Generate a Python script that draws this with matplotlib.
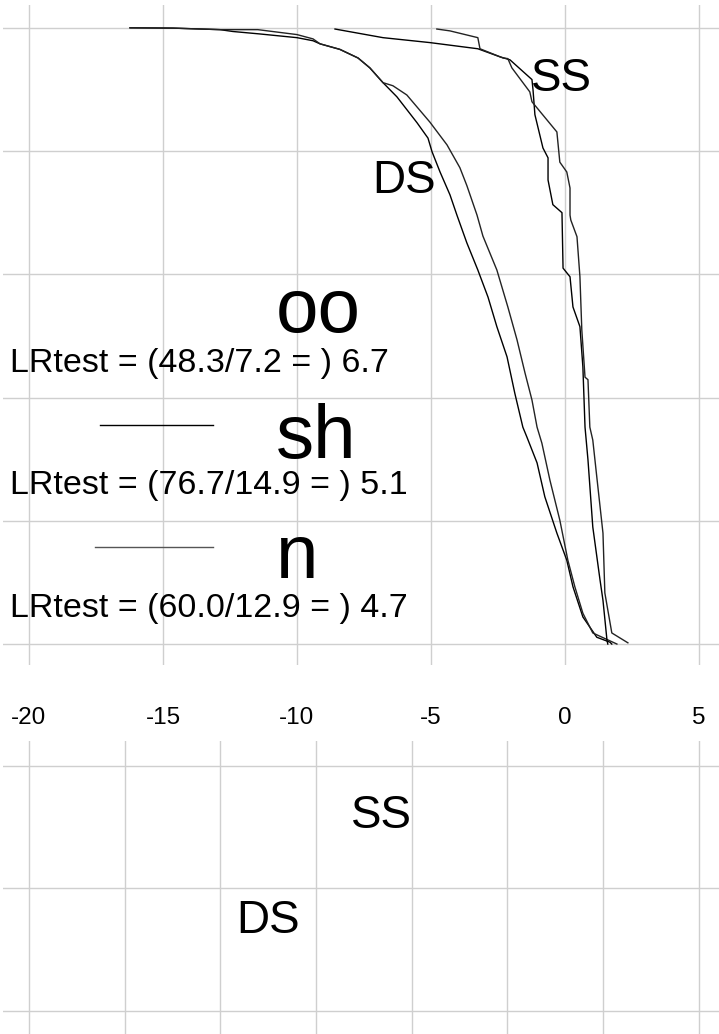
import matplotlib
matplotlib.use("Agg")
from matplotlib import pyplot as plt

plt.rcParams['font.family'] = ['Liberation Sans', 'DejaVu Sans']

# survival-type curves, top panel (x value, fraction remaining)
ds_a_x = [-16.23, -14.63, -12.87, -12.39, -11.38, -10.0, -9.40, -9.14, -8.40, -7.72, -7.28,
          -6.79, -6.27, -5.52, -5.11, -4.96, -4.66, -4.29, -4.03, -3.66, -3.25, -2.87, -2.54,
          -2.16, -1.87, -1.57, -1.42, -1.04, -0.75, -0.30, 0.07, 0.30, 0.67, 1.19, 1.68, 1.75]
ds_a_y = [1.0, 0.9995, 0.997, 0.994, 0.990, 0.984, 0.979, 0.974, 0.965, 0.951, 0.935,
          0.911, 0.888, 0.846, 0.821, 0.799, 0.766, 0.729, 0.696, 0.651, 0.607, 0.563, 0.515,
          0.466, 0.407, 0.352, 0.336, 0.294, 0.239, 0.180, 0.136, 0.093, 0.044, 0.011, 0.003, 0.0]

ds_b_x = [-16.23, -14.63, -12.87, -11.46, -10.0, -9.40, -9.14, -8.40, -7.72, -7.28, -6.79,
          -6.42, -5.90, -5.04, -4.40, -3.92, -3.66, -3.28, -3.06, -2.54, -2.13, -1.79, -1.49,
          -1.23, -1.04, -0.86, -0.56, -0.19, 0.11, 0.37, 0.67, 1.04, 1.94]
ds_b_y = [1.0, 0.9995, 0.997, 0.997, 0.989, 0.982, 0.974, 0.965, 0.951, 0.935, 0.911,
          0.906, 0.891, 0.847, 0.810, 0.773, 0.744, 0.696, 0.662, 0.607, 0.547, 0.494, 0.440,
          0.396, 0.352, 0.326, 0.266, 0.201, 0.136, 0.093, 0.050, 0.018, 0.0]

ss_a_x = [-8.58, -6.79, -5.04, -3.25, -2.43, -2.05, -1.23, -1.19, -1.12, -0.82, -0.63, -0.63,
          -0.45, -0.11, -0.07, 0.19, 0.30, 0.56, 0.67, 0.75, 0.86, 1.04, 1.31, 1.42, 1.57, 1.60]
ss_a_y = [0.998, 0.984, 0.976, 0.966, 0.953, 0.948, 0.916, 0.899, 0.859, 0.805, 0.789, 0.753,
          0.713, 0.700, 0.610, 0.596, 0.547, 0.515, 0.450, 0.352, 0.299, 0.190, 0.104, 0.071, 0.006, 0.0]

ss_b_x = [-4.78, -4.29, -3.25, -3.17, -2.31, -2.13, -1.98, -1.31, -1.23, -0.30, -0.19, 0.07,
          0.19, 0.19, 0.22, 0.45, 0.56, 0.63, 0.75, 0.86, 0.93, 1.04, 1.19, 1.42, 1.49, 1.75, 2.35]
ss_b_y = [0.998, 0.995, 0.984, 0.966, 0.951, 0.950, 0.935, 0.896, 0.880, 0.831, 0.782, 0.766,
          0.740, 0.696, 0.688, 0.661, 0.596, 0.510, 0.433, 0.429, 0.352, 0.331, 0.271, 0.180,
          0.083, 0.018, 0.002]

x_ticks = [-20, -15, -10, -5, 0, 5]
y_ticks = [0.0, 0.2, 0.4, 0.6, 0.8, 1.0]

groups = ['oo', 'sh', 'n']
lr_num = [48.3, 76.7, 60.0]
lr_den = [7.2, 14.9, 12.9]
lr_val = [6.7, 5.1, 4.7]

GRID = '#cfcfcf'


def main() -> None:
    fig = plt.figure(figsize=(7.19, 10.34), dpi=100)

    ax = fig.add_axes([3 / 719, 1 - 665 / 1034, 716 / 719, 660 / 1034])
    ax.set_xlim(-20.97, 5.75)
    ax.set_ylim(-0.034, 1.037)
    ax.set_xticks(x_ticks)
    ax.set_xticklabels([str(t) for t in x_ticks], fontsize=17.5)
    ax.set_yticks(y_ticks)
    ax.set_yticklabels([])
    ax.tick_params(length=0)
    ax.tick_params(axis='x', pad=30)
    ax.grid(True, color=GRID, linewidth=1)
    ax.set_axisbelow(True)
    for s in ax.spines.values():
        s.set_visible(False)

    ax.plot(ds_a_x, ds_a_y, color='black', lw=1)
    ax.plot(ds_b_x, ds_b_y, color='#222222', lw=1)
    ax.plot(ss_a_x, ss_a_y, color='black', lw=1)
    ax.plot(ss_b_x, ss_b_y, color='#222222', lw=1)

    ax.text(-1.27, 0.898, 'SS', fontsize=33)
    ax.text(-7.20, 0.732, 'DS', fontsize=33)

    # group labels with LR test ratios
    group_y = [0.5065, 0.302, 0.107]
    lr_y = [0.4416, 0.2435, 0.0438]
    for g, gy, ly, a, b, v in zip(groups, group_y, lr_y, lr_num, lr_den, lr_val):
        ax.text(-10.78, gy, g, fontsize=55)
        ax.text(-20.70, ly, f'LRtest = ({a:.1f}/{b:.1f} = ) {v:.1f}', fontsize=24.5)

    # short legend strokes
    ax.plot([-17.35, -13.13], [0.3555, 0.3555], color='black', lw=1)
    ax.plot([-17.54, -13.13], [0.1575, 0.1575], color='#555555', lw=1)

    bx = fig.add_axes([3 / 719, 0, 716 / 719, (1034 - 741) / 1034])
    bx.set_xlim(-0.27, 7.21)
    bx.set_ylim(-0.188, 2.204)
    bx.set_xticks(range(8))
    bx.set_yticks([0, 1, 2])
    bx.set_xticklabels([])
    bx.set_yticklabels([])
    bx.tick_params(length=0)
    bx.grid(True, color=GRID, linewidth=1)
    for s in bx.spines.values():
        s.set_visible(False)
    bx.text(3.365, 1.494, 'SS', fontsize=33)
    bx.text(2.163, 0.637, 'DS', fontsize=33)

    fig.savefig('out.png', dpi=100)


if __name__ == '__main__':
    main()
